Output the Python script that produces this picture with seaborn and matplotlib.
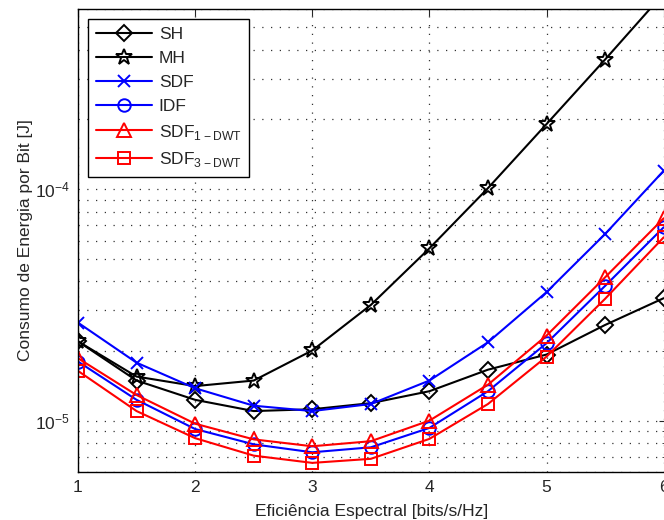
import matplotlib
matplotlib.use("Agg")
import matplotlib.pyplot as plt
import matplotlib.ticker as mticker
import numpy as np
import seaborn as sns

# spectral efficiency [bits/s/Hz]
eff = [1, 1.5, 2, 2.5, 3, 3.5, 4, 4.5, 5, 5.5, 6]

# energy per bit [J]
sh = [2.2e-5, 1.49e-5, 1.23e-5, 1.10e-5, 1.12e-5, 1.19e-5, 1.34e-5, 1.66e-5, 1.93e-5, 2.59e-5, 3.38e-5]
mh = [2.2e-5, 1.55e-5, 1.41e-5, 1.49e-5, 2.01e-5, 3.16e-5, 5.55e-5, 1.01e-4, 1.91e-4, 3.63e-4, 7.0e-4]
sdf = [2.65e-5, 1.78e-5, 1.38e-5, 1.16e-5, 1.10e-5, 1.18e-5, 1.49e-5, 2.18e-5, 3.59e-5, 6.4e-5, 1.2e-4]
idf = [1.80e-5, 1.23e-5, 9.2e-6, 7.9e-6, 7.3e-6, 7.67e-6, 9.3e-6, 1.34e-5, 2.16e-5, 3.82e-5, 6.84e-5]
sdf1 = [1.86e-5, 1.29e-5, 9.7e-6, 8.3e-6, 7.75e-6, 8.15e-6, 1.0e-5, 1.43e-5, 2.33e-5, 4.16e-5, 7.48e-5]
sdf3 = [1.64e-5, 1.10e-5, 8.4e-6, 7.06e-6, 6.57e-6, 6.84e-6, 8.34e-6, 1.18e-5, 1.89e-5, 3.36e-5, 6.19e-5]

labels = ["SH", "MH", "SDF", "IDF",
          r"SDF$_{\mathregular{1-DWT}}$", r"SDF$_{\mathregular{3-DWT}}$"]

sns.set_style("white")
plt.rcParams["font.family"] = ["Liberation Sans", "DejaVu Sans"]
plt.rcParams["mathtext.fontset"] = "custom"
plt.rcParams["mathtext.rm"] = "Liberation Sans"

fig = plt.figure(figsize=(6.64, 5.2), dpi=100)
ax = fig.add_axes([78 / 664, 48 / 520, 588 / 664, 463 / 520])

styles = [
    (sh, "black", "D", 8),
    (mh, "black", "*", 12),
    (sdf, "blue", "x", 8),
    (idf, "blue", "o", 9),
    (sdf1, "red", "^", 10),
    (sdf3, "red", "s", 8),
]
for (vals, col, mk, ms), lab in zip(styles, labels):
    sns.lineplot(x=eff, y=vals, ax=ax, color=col, marker=mk, markersize=ms,
                 markerfacecolor="none", markeredgecolor=col, markeredgewidth=1.4,
                 linewidth=1.5, label=lab)

ax.set_yscale("log")
ax.set_xlim(1, 6.02)
ax.set_ylim(6e-6, 6e-4)
ax.set_xticks([1, 2, 3, 4, 5, 6])
ax.yaxis.set_major_locator(mticker.LogLocator(base=10, numticks=10))
ax.yaxis.set_minor_locator(mticker.LogLocator(base=10, subs=np.arange(2, 10), numticks=20))
ax.yaxis.set_minor_formatter(mticker.NullFormatter())

dots = (0, (1, 6))
ax.grid(True, which="major", linestyle=dots, color="0.2", linewidth=0.9)
ax.grid(True, which="minor", axis="y", linestyle=dots, color="0.2", linewidth=0.9)
ax.tick_params(which="both", direction="in", top=True, right=True, labelsize=12.5)
ax.tick_params(which="major", length=5, pad=6)
ax.tick_params(which="minor", length=3)
for sp in ax.spines.values():
    sp.set_color("black")
    sp.set_linewidth(1.0)

ax.set_xlabel("Eficiência Espectral [bits/s/Hz]", fontsize=12.5, labelpad=6)
ax.set_ylabel("Consumo de Energia por Bit [J]", fontsize=12.5, labelpad=1)

leg = ax.legend(loc="upper left", fontsize=12.5, handlelength=3.2, frameon=True,
                fancybox=False, borderpad=0.45, labelspacing=0.5,
                borderaxespad=0.6, handletextpad=0.4)
leg.get_frame().set_edgecolor("black")
leg.get_frame().set_linewidth(1.0)
leg.get_frame().set_alpha(1.0)

fig.savefig("out.png", dpi=100)
